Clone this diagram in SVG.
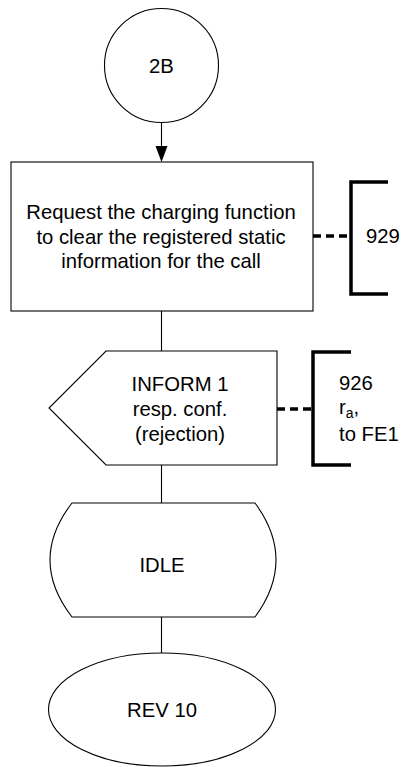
<svg xmlns="http://www.w3.org/2000/svg" width="409" height="767" viewBox="0 0 409 767">
<defs>
<style>
.s{fill:#fff;stroke:#000;stroke-width:1.1}
.t{font-family:"Liberation Sans",Arial,sans-serif;font-size:20.3px;fill:#000}
.m{text-anchor:middle}
.c{stroke:#000;stroke-width:1.1;fill:none}
.d{stroke:#000;stroke-width:3.5;stroke-dasharray:8,5;fill:none}
.b{stroke:#000;stroke-width:3.5;fill:none}
</style>
</defs>
<rect width="409" height="767" fill="#fff"/>
<g id="connectors">
<line class="c" x1="161.5" y1="123" x2="161.5" y2="147"/>
<path d="M155.5,146 L167.5,146 L161.5,162 Z" fill="#000"/>
<line class="c" x1="161.5" y1="311" x2="161.5" y2="351"/>
<line class="c" x1="161.5" y1="465" x2="161.5" y2="503"/>
<line class="c" x1="161.5" y1="617" x2="161.5" y2="653"/>
<line class="d" x1="313" y1="236" x2="351" y2="236"/>
<line class="d" x1="277" y1="409" x2="313" y2="409"/>
</g>
<g id="n2B">
<circle class="s" cx="161.5" cy="65.5" r="57"/>
<text class="t m" x="161.5" y="73">2B</text>
</g>
<g id="task">
<rect class="s" x="11" y="162" width="302" height="149"/>
<text class="t m" x="161" y="219">Request the charging function</text>
<text class="t m" x="161" y="244">to clear the registered static</text>
<text class="t m" x="161" y="268">information for the call</text>
</g>
<g id="comment929">
<path class="b" d="M388,182 L351,182 L351,294 L388,294"/>
<text class="t" x="366" y="243">929</text>
</g>
<g id="inform">
<path class="s" d="M106,351 L277,351 L277,465 L106,465 L49,408 Z"/>
<text class="t m" x="180" y="391">INFORM 1</text>
<text class="t m" x="180" y="416">resp. conf.</text>
<text class="t m" x="180" y="441">(rejection)</text>
</g>
<g id="comment926">
<path class="b" d="M351,352 L313,352 L313,465 L351,465"/>
<text class="t" x="339" y="390">926</text>
<text class="t" x="339" y="414">r<tspan font-size="14" dy="4">a</tspan><tspan dy="-4">,</tspan></text>
<text class="t" x="339" y="441">to FE1</text>
</g>
<g id="idle">
<path class="s" d="M72,503 L255,503 Q297,560 255,617 L72,617 Q28,560 72,503 Z"/>
<text class="t m" x="162" y="572">IDLE</text>
</g>
<g id="rev10">
<ellipse class="s" cx="162" cy="709.5" rx="113.5" ry="56.5"/>
<text class="t m" x="162" y="717">REV 10</text>
</g>
</svg>
